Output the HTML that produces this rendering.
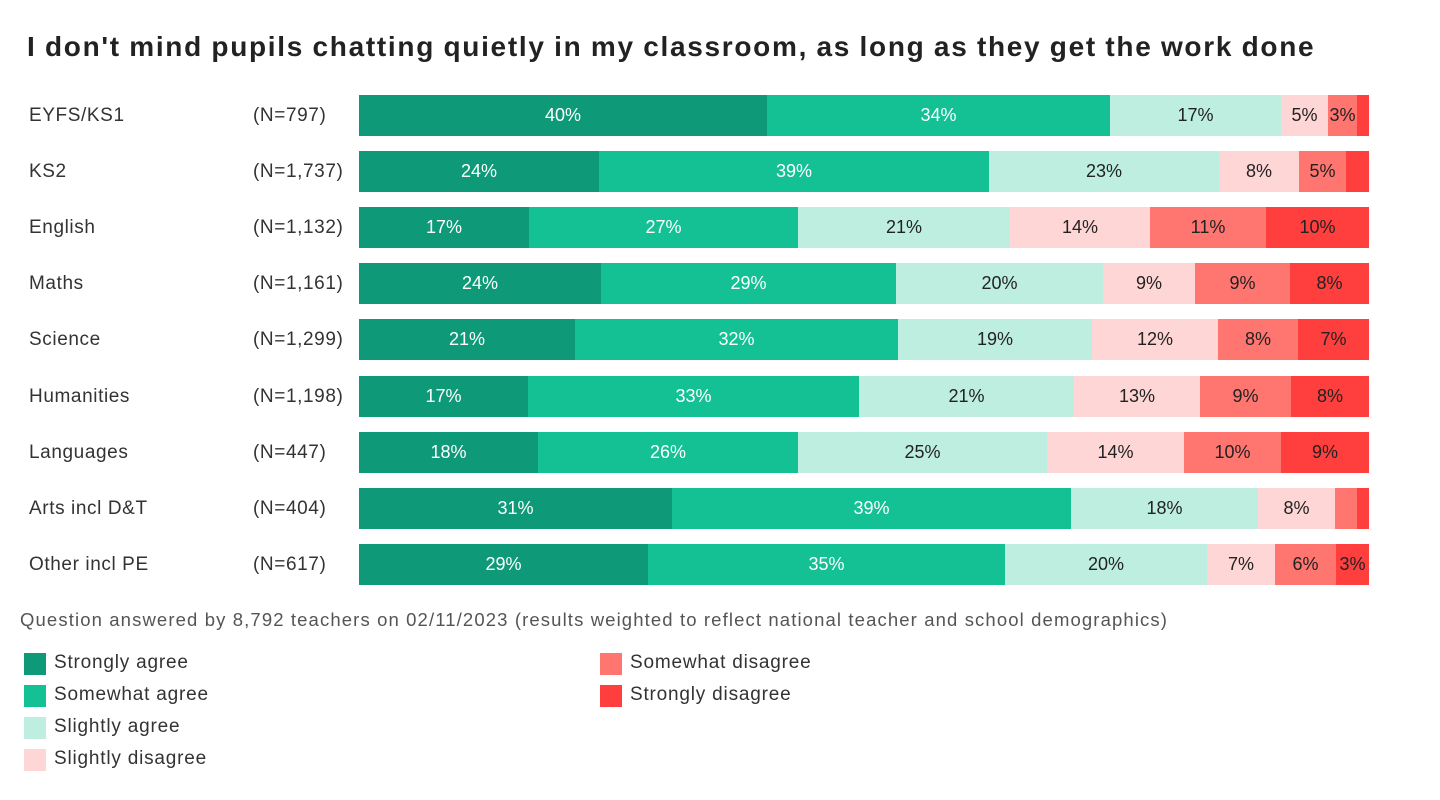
<!DOCTYPE html>
<html><head><meta charset="utf-8"><style>
body{margin:0;width:1440px;height:800px;background:#fff;font-family:"Liberation Sans",sans-serif;position:relative;overflow:hidden}
.t{position:absolute;left:27px;top:31px;font-size:28px;font-weight:bold;color:#222;letter-spacing:1.7px;word-spacing:-1px}
.l,.n{position:absolute;font-size:19px;color:#333;letter-spacing:0.6px}
.l{left:29px}.n{left:253px}
.s{position:absolute;height:41px;font-size:18px;display:flex;align-items:center;justify-content:center;color:#222;overflow:hidden}
.f{position:absolute;left:20px;top:609px;font-size:18.5px;color:#555;letter-spacing:1.12px}
.lg{position:absolute;font-size:19px;color:#333;letter-spacing:0.8px}
.lg i{position:absolute;left:-30px;top:1px;width:22px;height:22px}
</style></head><body>
<div class="t">I don't mind pupils chatting quietly in my classroom, as long as they get the work done</div>
<div id="c"></div>
<div class="f">Question answered by 8,792 teachers on 02/11/2023 (results weighted to reflect national teacher and school demographics)</div>
<div class="lg" style="left:54px;top:652px"><i style="background:#0e9a78"></i>Strongly agree</div>
<div class="lg" style="left:54px;top:684px"><i style="background:#13c194"></i>Somewhat agree</div>
<div class="lg" style="left:54px;top:716px"><i style="background:#bdeee0"></i>Slightly agree</div>
<div class="lg" style="left:54px;top:748px"><i style="background:#fdd6d5"></i>Slightly disagree</div>
<div class="lg" style="left:630px;top:652px"><i style="background:#ff7570"></i>Somewhat disagree</div>
<div class="lg" style="left:630px;top:684px"><i style="background:#fe3f3d"></i>Strongly disagree</div>
<script>
var cols=["#0e9a78","#13c194","#bdeee0","#fdd6d5","#ff7570","#fe3f3d"];
var rows=[
["EYFS/KS1","(N=797)",[359,767,1110,1281,1328,1357,1369],["40%","34%","17%","5%","3%",""]],
["KS2","(N=1,737)",[359,599,989,1219,1299,1346,1369],["24%","39%","23%","8%","5%",""]],
["English","(N=1,132)",[359,529,798,1010,1150,1266,1369],["17%","27%","21%","14%","11%","10%"]],
["Maths","(N=1,161)",[359,601,896,1103,1195,1290,1369],["24%","29%","20%","9%","9%","8%"]],
["Science","(N=1,299)",[359,575,898,1092,1218,1298,1369],["21%","32%","19%","12%","8%","7%"]],
["Humanities","(N=1,198)",[359,528,859,1074,1200,1291,1369],["17%","33%","21%","13%","9%","8%"]],
["Languages","(N=447)",[359,538,798,1047,1184,1281,1369],["18%","26%","25%","14%","10%","9%"]],
["Arts incl D&amp;T","(N=404)",[359,672,1071,1258,1335,1357,1369],["31%","39%","18%","8%","",""]],
["Other incl PE","(N=617)",[359,648,1005,1207,1275,1336,1369],["29%","35%","20%","7%","6%","3%"]]];
var h="";
rows.forEach(function(r,i){var y=95+i*56.1;
h+='<div class="l" style="top:'+(y+10)+'px">'+r[0]+'</div><div class="n" style="top:'+(y+10)+'px">'+r[1]+'</div>';
for(var k=0;k<6;k++){var x=r[2][k],w=r[2][k+1]-x;
h+='<div class="s" style="left:'+x+'px;top:'+y+'px;width:'+w+'px;background:'+cols[k]+';color:'+(k<2?'#fff':'#222')+'">'+r[3][k]+'</div>';}
});
document.getElementById("c").innerHTML=h;
</script>
</body></html>
